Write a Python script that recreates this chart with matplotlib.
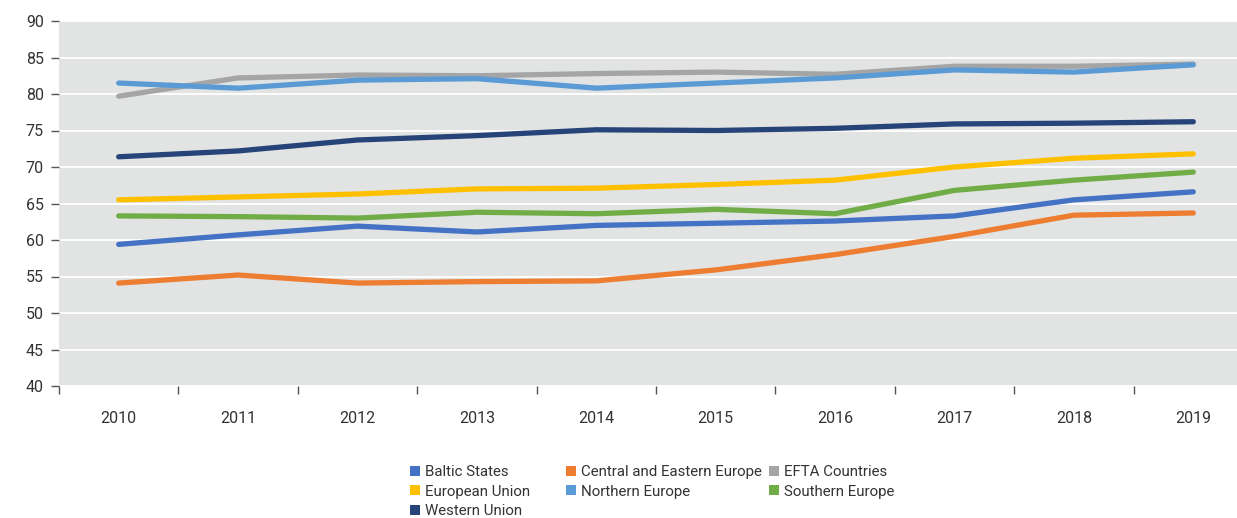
import matplotlib
matplotlib.use("Agg")
import matplotlib.pyplot as plt
from matplotlib.patches import Patch
import numpy as np

years = ["2010", "2011", "2012", "2013", "2014", "2015", "2016", "2017", "2018", "2019"]

baltic = [59.4, 60.7, 61.9, 61.1, 62.0, 62.3, 62.6, 63.3, 65.5, 66.6]
central_eastern = [54.1, 55.2, 54.1, 54.3, 54.4, 55.9, 58.0, 60.5, 63.4, 63.7]
efta = [79.7, 82.2, 82.6, 82.5, 82.8, 83.0, 82.7, 83.8, 83.8, 84.1]
european_union = [65.5, 65.9, 66.3, 67.0, 67.1, 67.6, 68.2, 70.0, 71.2, 71.8]
northern = [81.5, 80.8, 81.9, 82.1, 80.8, 81.5, 82.2, 83.3, 83.0, 84.0]
southern = [63.3, 63.2, 63.0, 63.8, 63.6, 64.2, 63.6, 66.8, 68.2, 69.3]
western = [71.4, 72.2, 73.7, 74.3, 75.1, 75.0, 75.3, 75.9, 76.0, 76.2]

series = [
    ("Baltic States", baltic, "#4472C4"),
    ("Central and Eastern Europe", central_eastern, "#ED7D31"),
    ("EFTA Countries", efta, "#A5A5A5"),
    ("European Union", european_union, "#FFC000"),
    ("Northern Europe", northern, "#5B9BD5"),
    ("Southern Europe", southern, "#70AD47"),
    ("Western Union", western, "#264478"),
]

plt.rcParams['font.family'] = ['Roboto', 'DejaVu Sans']

fig = plt.figure(figsize=(12.37, 5.18), dpi=100)
W, H = 1237, 518
left, right, top, bottom = 59, 1253, 21, 386
ax = fig.add_axes([left / W, (H - bottom) / H, (right - left) / W, (bottom - top) / H])
ax.set_facecolor("#E2E3E3")

x = np.arange(len(years))
draw_order = ["Central and Eastern Europe", "Baltic States", "Southern Europe", "European Union",
              "Western Union", "EFTA Countries", "Northern Europe"]
lookup = {n: (v, c) for n, v, c in series}
for i, name in enumerate(draw_order):
    v, c = lookup[name]
    ax.plot(x, v, color=c, lw=3.8, solid_capstyle="round", solid_joinstyle="round", zorder=3 + i)

ax.set_ylim(40, 90)
ax.set_xlim(-0.5, 9.5)
ax.set_yticks(np.arange(40, 91, 5))
ax.yaxis.grid(True, color="white", lw=1.3)
ax.set_axisbelow(True)
for s in ax.spines.values():
    s.set_visible(False)

ax.set_xticks(x)
ax.set_xticklabels(years)
ax.set_xticks(np.arange(-0.5, 10, 1), minor=True)
ax.tick_params(axis="x", which="major", length=0, pad=18, labelsize=11.5, labelcolor="#333333")
ax.tick_params(axis="x", which="minor", length=6, width=1, color="#555555", direction="out")
ax.tick_params(axis="y", length=6, width=1, color="#555555", pad=5, labelsize=11.5, labelcolor="#333333")

handles_by_name = {n: Patch(facecolor=c, edgecolor="none") for n, v, c in series}
columns = [
    (["Baltic States", "European Union", "Western Union"], 410),
    (["Central and Eastern Europe", "Northern Europe"], 566),
    (["EFTA Countries", "Southern Europe"], 769),
]
for names, xpx in columns:
    leg = fig.legend([handles_by_name[n] for n in names], names, ncol=1,
                     loc="upper left", bbox_to_anchor=(xpx / W, 1 - 465 / H),
                     frameon=False, fontsize=10.8, handlelength=0.65, handleheight=0.65,
                     handletextpad=0.35, labelspacing=0.37, borderpad=0,
                     labelcolor="#333333", borderaxespad=0)

fig.savefig("out.png", dpi=100)
